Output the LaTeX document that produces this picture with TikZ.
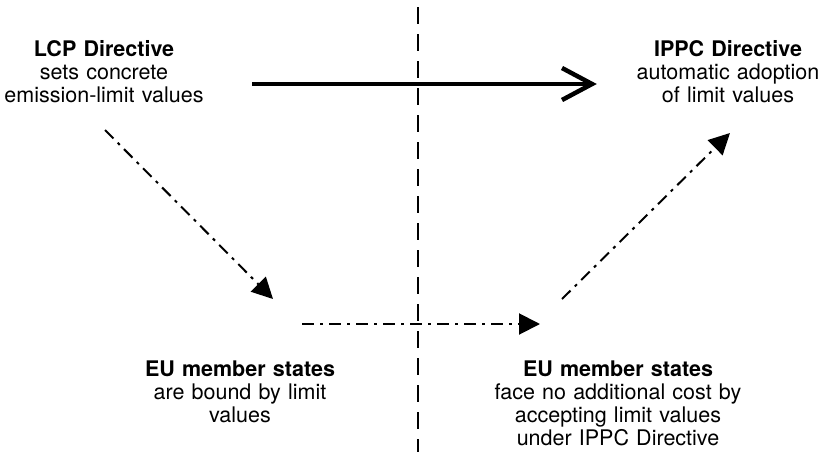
\documentclass[tikz,border=0pt]{standalone}
\usepackage{fontspec}
\setmainfont{TeX Gyre Heros}
\usetikzlibrary{arrows.meta}

\begin{document}
\begin{tikzpicture}[x=1pt,y=-1pt]
\tikzstyle{block}=[anchor=base,inner sep=0pt,align=center,text width=260pt,font={\fontsize{21.5}{23.3}\selectfont}]
\tikzstyle{mainflow}=[line width=4.5pt,-{Straight Barb[length=30pt,width=32pt]}]
\tikzstyle{effect}=[line width=2pt,dash pattern=on 12pt off 6pt on 3pt off 6pt,-{Triangle[length=21pt,width=21pt]}]
\tikzstyle{divide}=[line width=2pt,dash pattern=on 17pt off 10pt]

\useasboundingbox (0,0) rectangle (823,456);

\node[block] (lcp) at (104,56) {\textbf{LCP Directive}\\sets concrete\\emission-limit values};
\node[block] (ippc) at (728,56) {\textbf{IPPC Directive}\\automatic adoption\\of limit values};
\node[block] (eul) at (240,376) {\textbf{EU member states}\\are bound by limit\\values};
\node[block] (eur) at (618,376) {\textbf{EU member states}\\face no additional cost by\\accepting limit values\\under IPPC Directive};

\coordinate (top) at (418,7);
\coordinate (bottom) at (418,452);
\coordinate (l1) at (105,130);
\coordinate (l2) at (273,299);
\coordinate (m1) at (302,324);
\coordinate (m2) at (540,324);
\coordinate (r1) at (562,299);
\coordinate (r2) at (730,133);

\draw[divide] (top) to (bottom);

\draw[mainflow,shorten <=18pt,shorten >=1pt] ([yshift=-28pt]lcp.base east) to ([yshift=-28pt]ippc.base west);

\draw[effect] (l1) to (l2);
\draw[effect] (m1) to (m2);
\draw[effect] (r1) to (r2);

\end{tikzpicture}
\end{document}
